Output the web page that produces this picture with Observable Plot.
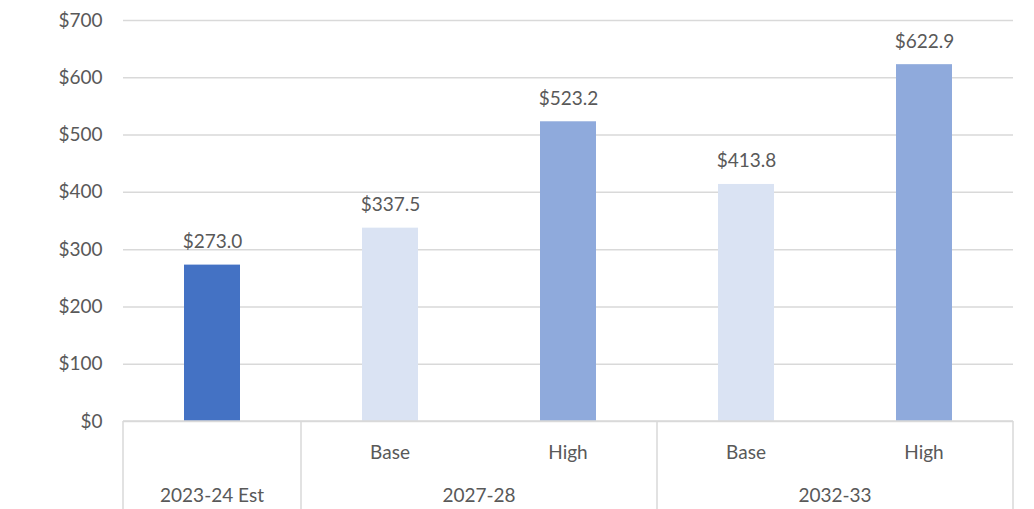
<!DOCTYPE html>
<html>
<head>
<meta charset="utf-8">
<script src="https://cdn.jsdelivr.net/npm/d3@7"></script>
<script src="https://cdn.jsdelivr.net/npm/@observablehq/plot@0.6"></script>
<style>
  html, body { margin: 0; padding: 0; background: #fff; }
  #chart svg { display: block; }
</style>
</head>
<body>
<div id="chart"></div>
<script>
const categories = ["2023-24 Est", "2027-28 Base", "2027-28 High", "2032-33 Base", "2032-33 High"];
const subLabels = ["", "Base", "High", "Base", "High"];
const groups = ["2023-24 Est", "2027-28", "2027-28", "2032-33", "2032-33"];
const scenarios = ["Est", "Base", "High", "Base", "High"];
const values = [273.0, 337.5, 523.2, 413.8, 622.9];
const yTicks = [0, 100, 200, 300, 400, 500, 600, 700];

const data = categories.map((c, i) => ({
  cat: c, sub: subLabels[i], group: groups[i], scen: scenarios[i], value: values[i]
}));

const FONT = "Lato, 'Open Sans', sans-serif";
const TEXT = "#595959";
const GRID = "#d9d9d9";

function table(index, scales, values, dim) {
  const x = scales.x;
  const step = typeof x.step === "function" ? x.step() : x.bandwidth() / (1 - 0.685);
  const top = dim.height - dim.marginBottom;
  const g = d3.create("svg:g");
  const center = c => x(c) + x.bandwidth() / 2;
  const bounds = [];
  const groupCenters = [];
  let start = 0;
  for (let i = 1; i <= categories.length; i++) {
    if (i === categories.length || groups[i] !== groups[start]) {
      const x0 = center(categories[start]) - step / 2;
      const x1 = center(categories[i - 1]) + step / 2;
      if (start === 0) bounds.push(x0);
      bounds.push(x1);
      groupCenters.push({label: groups[start], x: (x0 + x1) / 2});
      start = i;
    }
  }
  g.append("line")
    .attr("x1", bounds[0]).attr("x2", bounds[bounds.length - 1])
    .attr("y1", top).attr("y2", top)
    .attr("stroke", GRID).attr("stroke-width", 1.5);
  for (const b of bounds) {
    g.append("line").attr("x1", b).attr("x2", b).attr("y1", top).attr("y2", dim.height)
      .attr("stroke", GRID).attr("stroke-width", 1.5);
  }
  for (let i = 0; i < categories.length; i++) {
    if (!subLabels[i]) continue;
    g.append("text").attr("x", center(categories[i])).attr("y", top + 31)
      .attr("dy", "0.35em").attr("text-anchor", "middle")
      .attr("fill", TEXT).attr("font-family", FONT).attr("font-size", 19)
      .text(subLabels[i]);
  }
  for (const gc of groupCenters) {
    g.append("text").attr("x", gc.x).attr("y", top + 74)
      .attr("dy", "0.35em").attr("text-anchor", "middle")
      .attr("fill", TEXT).attr("font-family", FONT).attr("font-size", 19)
      .text(gc.label);
  }
  return g.node();
}

const chart = Plot.plot({
  width: 1034,
  height: 509,
  marginLeft: 123,
  marginRight: 21,
  marginTop: 20,
  marginBottom: 88,
  style: {fontFamily: FONT, fontSize: "19px", color: TEXT, background: "#fff"},
  x: {domain: categories, paddingInner: 0.685, paddingOuter: 0.3425, axis: null},
  y: {domain: [0, 700], ticks: yTicks, tickFormat: d => "$" + d, tickSize: 0, tickPadding: 21, label: null},
  color: {domain: ["Est", "Base", "High"], range: ["#4472C4", "#DAE3F3", "#8FAADC"]},
  marks: [
    Plot.ruleY(yTicks, {stroke: GRID, strokeWidth: 1.5}),
    Plot.barY(data, {x: "cat", y: "value", fill: "scen"}),
    Plot.text(data, {x: "cat", y: "value", text: d => "$" + d.value.toFixed(1), lineAnchor: "bottom", dy: -17, fill: TEXT, fontSize: 19}),
    table
  ]
});
document.getElementById("chart").appendChild(chart);
</script>
</body>
</html>
